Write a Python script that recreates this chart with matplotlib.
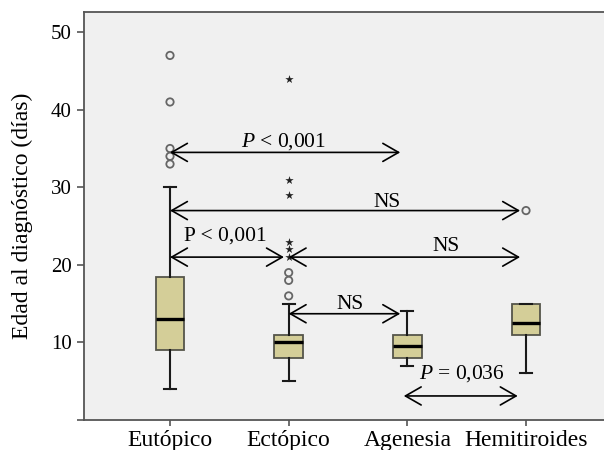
import matplotlib
matplotlib.use("Agg")
import matplotlib.pyplot as plt
from matplotlib.patches import FancyArrowPatch

plt.rcParams['font.family'] = ['Liberation Serif', 'DejaVu Serif']
plt.rcParams['mathtext.fontset'] = 'custom'
plt.rcParams['mathtext.rm'] = 'Liberation Serif'
plt.rcParams['mathtext.it'] = 'Liberation Serif:italic'

# Groups and box summaries (días)
categories = ['Eutópico', 'Ectópico', 'Agenesia', 'Hemitiroides']
whislo = [4, 5, 7, 6]
q1 = [9, 8, 8, 11]
medians = [13, 10, 9.5, 12.5]
q3 = [18.5, 11, 11, 15]
whishi = [30, 15, 14, 15]

# Outliers (circles) and extreme values (stars)
outlier_x = [1, 1, 1, 1, 1, 2, 2, 2, 4]
outlier_y = [47, 41, 35, 34, 33, 19, 18, 16, 27]
extreme_x = [2, 2, 2, 2, 2, 2]
extreme_y = [44, 31, 29, 23, 22, 21]

# Pairwise comparisons: (y, x_start, x_end)
comparisons_y = [34.5, 27, 21, 21, 13.7, 3.1]
comparisons_x0 = [1.0, 1.0, 1.0, 2.0, 2.0, 2.97]
comparisons_x1 = [2.94, 3.95, 1.96, 3.95, 2.94, 3.93]
labels_text = ['$P$ < 0,001', 'NS', 'P < 0,001', 'NS', 'NS', '$P$ = 0,036']
labels_x = [1.96, 2.83, 1.47, 3.33, 2.52, 3.46]
labels_y = [35.3, 27.4, 23.1, 21.8, 14.3, 5.4]

fig = plt.figure(figsize=(6.04, 4.5), dpi=100)
W, H = 604, 450
left, right, top, bottom = 84, 606, 12, 420
ax = fig.add_axes([left / W, 1 - bottom / H, (right - left) / W, (bottom - top) / H])
ax.set_facecolor('#F0F0F0')

positions = [1, 2, 3, 4]
stats = []
for i in range(len(categories)):
    stats.append(dict(med=medians[i], q1=q1[i], q3=q3[i],
                      whislo=whislo[i], whishi=whishi[i], fliers=[]))

ax.bxp(stats, positions=positions, widths=0.24, showfliers=False,
       patch_artist=True,
       boxprops=dict(facecolor='#D4CE98', edgecolor='#55554a', linewidth=1.3),
       medianprops=dict(color='black', linewidth=2.4),
       whiskerprops=dict(color='#1a1a1a', linewidth=1.5),
       capprops=dict(color='#1a1a1a', linewidth=1.5),
       capwidths=0.1, zorder=2)

ax.scatter(outlier_x, outlier_y, s=28, facecolors='none', edgecolors='#666666',
           linewidths=1.3, zorder=3)
ax.scatter(extreme_x, extreme_y, s=40, marker='*', color='#222222',
           linewidths=0, zorder=3)

for y, x0, x1 in zip(comparisons_y, comparisons_x0, comparisons_x1):
    arr = FancyArrowPatch((x0, y), (x1, y),
                          arrowstyle='<->,head_length=1.13,head_width=0.65',
                          mutation_scale=10, shrinkA=0, shrinkB=0,
                          color='black', linewidth=1.2, zorder=4)
    ax.add_patch(arr)

for t, x, y in zip(labels_text, labels_x, labels_y):
    ax.text(x, y, t, ha='center', va='baseline', fontsize=15.5, zorder=5)

ax.set_xlim(0.2753, 4.674)
ax.set_ylim(0, 52.6)
ax.set_xticks(positions)
ax.set_xticklabels(categories, fontsize=17)
ax.set_yticks([0, 10, 20, 30, 40, 50])
ax.set_yticklabels(['', '10', '20', '30', '40', '50'], fontsize=15)
ax.tick_params(axis='y', direction='out', length=5, width=1.2, color='#555555', pad=4)
ax.tick_params(axis='x', direction='out', length=4, width=1.2, color='#555555', pad=3)
ax.set_ylabel('Edad al diagnóstico (días)', fontsize=17)
ax.yaxis.set_label_coords(-51 / (right - left), 0.5)

for s in ['left', 'bottom', 'top']:
    ax.spines[s].set_color('#555555')
    ax.spines[s].set_linewidth(1.3)
ax.spines['right'].set_visible(False)

fig.savefig('out.png', dpi=100)
